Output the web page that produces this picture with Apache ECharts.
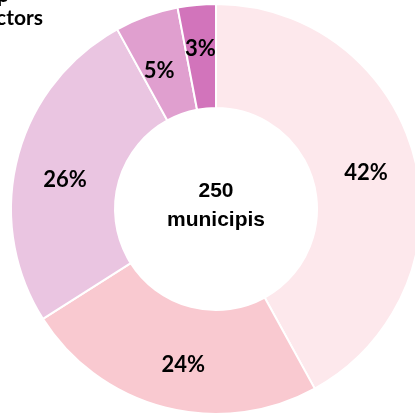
<!DOCTYPE html>
<html>
<head>
<meta charset="utf-8">
<script src="https://cdn.jsdelivr.net/npm/echarts@6/dist/echarts.min.js"></script>
<style>
  html, body { margin: 0; padding: 0; background: #fff; }
  #chart { width: 415px; height: 416px; }
</style>
</head>
<body>
<div id="chart"></div>
<script>
// dades (percentatges llegits del gràfic)
const sectors = ['A', 'B', 'C', 'D', 'E'];
const percentatges = [42, 24, 26, 5, 3];
const colors = ['#fde8ec', '#f9c9d0', '#eac5e1', '#e09fcf', '#d274bb'];
const totalText = ['250', 'municipis'];
// petits ajustos de posició de les etiquetes
const labelOffsets = [[-1, 3], [6, 5], [0, 10], [-4, 9], [-1, -5]];

const getOption = () =>
{
  return {
    animation: false,
    graphic: [
      {
        type: 'text',
        x: 9,
        y: -15,
        style: {
          text: 'Grup',
          font: 'bold 21px Lato',
          align: 'right',
          verticalAlign: 'top',
          fill: '#000'
        }
      },
      {
        type: 'text',
        x: 43,
        y: 8,
        style: {
          text: 'sectors',
          font: 'bold 21px Lato',
          align: 'right',
          verticalAlign: 'top',
          fill: '#000'
        }
      },
      {
        type: 'text',
        x: 216,
        y: 177,
        style: {
          text: totalText.join('\n'),
          font: 'bold 21px "Liberation Sans Narrow", "Liberation Sans"',
          lineHeight: 29,
          align: 'center',
          verticalAlign: 'top',
          fill: '#000'
        }
      }
    ],
    series: [
      {
        type: 'pie',
        center: [216, 209],
        radius: [101, 205],
        startAngle: 90,
        clockwise: true,
        data: sectors.map((s, i) => ({
          name: s,
          value: percentatges[i],
          itemStyle: { color: colors[i] },
          label: { offset: labelOffsets[i] }
        })),
        itemStyle: {
          borderColor: '#fff',
          borderWidth: 2
        },
        label: {
          show: true,
          position: 'inside',
          formatter: '{c}%',
          color: '#000',
          fontFamily: 'Lato',
          fontWeight: 'bold',
          fontSize: 22
        },
        labelLine: { show: false },
        emphasis: { disabled: true }
      }
    ]
  };
};

const chart = echarts.init(document.getElementById('chart'));
chart.setOption(getOption());
</script>
</body>
</html>
